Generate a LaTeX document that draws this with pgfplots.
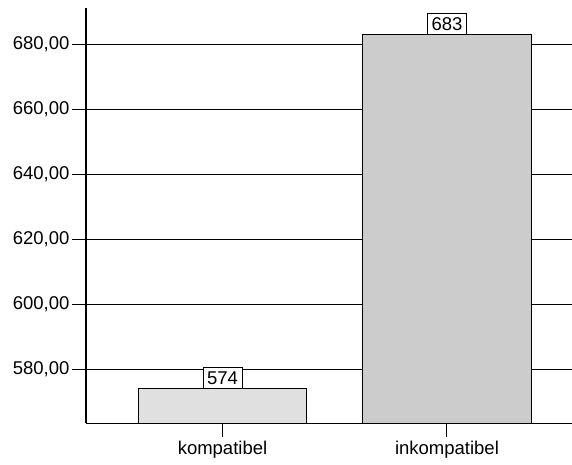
\documentclass[border=0pt]{standalone}
\usepackage{pgfplots}
\pgfplotsset{compat=1.18}
\usepackage{fontspec}
\setmainfont{Liberation Sans}
\definecolor{barA}{HTML}{E0E0E0}
\definecolor{barB}{HTML}{CCCCCC}
\begin{document}
\begin{tikzpicture}
\useasboundingbox (-86pt,-41pt) rectangle (486pt,423pt);
\begin{axis}[
  scale only axis,
  width=486pt, height=415pt,
  xmin=-0.608, xmax=1.557,
  ymin=563.4, ymax=691.2,
  axis x line*=bottom,
  axis y line*=left,
  axis line style={-, line width=1.3pt},
  x axis line style={line width=1pt},
  xtick align=outside, ytick align=outside,
  major tick length=14pt,
  every tick/.style={draw=black, line width=1pt},
  xtick={0,1},
  xticklabels={kompatibel, inkompatibel},
  ytick={580,600,620,640,660,680},
  ymajorgrids,
  grid style={black, line width=0.8pt},
  yticklabel style={xshift=1pt, /pgf/number format/fixed, /pgf/number format/fixed zerofill, /pgf/number format/precision=2, /pgf/number format/use comma, /pgf/number format/1000 sep={}, /pgf/number format/assume math mode=true},
  ticklabel style={font=\fontsize{18.5}{21}\selectfont},
  xticklabel style={yshift=-1pt},
  ybar, bar width=0.75, bar shift=0pt,
  nodes near coords,
  nodes near coords style={font=\fontsize{18.5}{21}\selectfont, draw=black, line width=0.8pt, fill=white, inner xsep=4pt, inner ysep=4pt, outer sep=0pt, anchor=south, /pgf/number format/fixed, /pgf/number format/precision=0, /pgf/number format/1000 sep={}, /pgf/number format/assume math mode=true},
]
\addplot[draw=black, line width=0.8pt, fill=barA] coordinates {(0,574)};
\addplot[draw=black, line width=0.8pt, fill=barB] coordinates {(1,683)};
\end{axis}
\end{tikzpicture}
\end{document}
